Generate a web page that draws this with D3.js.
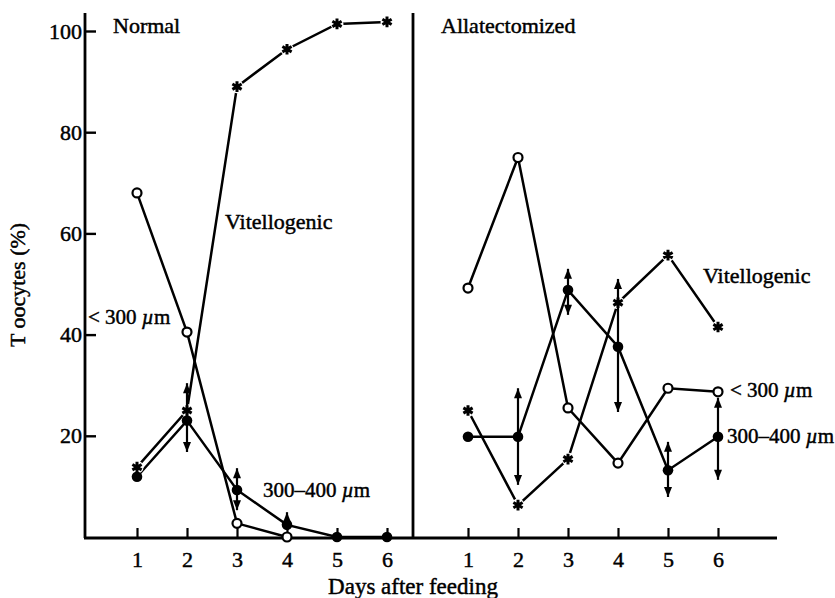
<!DOCTYPE html>
<html>
<head>
<meta charset="utf-8">
<script src="https://cdn.jsdelivr.net/npm/d3@7"></script>
<style>
  html, body { margin: 0; padding: 0; background: #fff; }
  svg text { font-family: "Liberation Serif", "Times New Roman", serif; fill: #000; stroke: #000; stroke-width: 0.45px; }
</style>
</head>
<body>
<svg id="chart" width="835" height="598"></svg>
<script>
// Days after feeding
const days = [1, 2, 3, 4, 5, 6];
const yTicks = [20, 40, 60, 80, 100];

// Normal females (% of terminal oocytes)
const normalSmall = [68, 40.5, 2.7, 0];              // < 300 µm, open circles
const normalMid = [11.9, 23, 9.3, 2.4, 0, 0];        // 300–400 µm, filled circles
const normalVit = [13.8, 25, 89, 96.4, 101.4, 101.8]; // vitellogenic, stars
const normalMidHi = [null, 30.4, 13.6, 4.9, null, null];
const normalMidLo = [null, 16.8, 5.3, null, null, null];

// Allatectomized females
const allatSmall = [49.2, 75, 25.5, 14.6, 29.4, 28.7];
const allatMid = [19.8, 19.8, 48.8, 37.6, 13.2, 19.8];
const allatVit = [25, 6.3, 15.4, 46.3, 55.7, 41.5];
const allatMidHi = [null, 29.4, 53, 51, 18.8, 27.5];
const allatMidLo = [null, 10.3, 43.9, 24.7, 7.9, 11.3];

const svg = d3.select("#chart");

const y = d3.scaleLinear().domain([0, 100]).range([537, 31]);
const xLeft = d3.scaleLinear().domain([0, 6]).range([87, 387]);
const xRight = d3.scaleLinear().domain([0, 6]).range([418, 718]);

const axisX0 = 85, axisTop = 13, baseY = 538, dividerX = 413, axisXEnd = 777;

// frame: y axis, divider, baseline
svg.append("line").attr("x1", axisX0).attr("x2", axisX0).attr("y1", axisTop).attr("y2", baseY)
  .attr("stroke", "#000").attr("stroke-width", 2.8);
svg.append("line").attr("x1", dividerX).attr("x2", dividerX).attr("y1", axisTop).attr("y2", baseY)
  .attr("stroke", "#000").attr("stroke-width", 2.8);
svg.append("line").attr("x1", axisX0 - 1).attr("x2", axisXEnd).attr("y1", baseY).attr("y2", baseY)
  .attr("stroke", "#000").attr("stroke-width", 2.8);

// y axis ticks and labels
const yAxis = svg.append("g").attr("transform", `translate(${axisX0},0)`)
  .call(d3.axisLeft(y).tickValues(yTicks).tickSizeInner(-11).tickSizeOuter(0).tickPadding(3).tickFormat(d3.format("d")));
yAxis.select(".domain").remove();
yAxis.selectAll(".tick line").attr("stroke", "#000").attr("stroke-width", 2.4);
yAxis.selectAll(".tick text").attr("font-size", 22).attr("font-family", "Liberation Serif, serif").attr("fill", "#000");

// x axes for both panels
[xLeft, xRight].forEach(xs => {
  const g = svg.append("g").attr("transform", `translate(0,${baseY})`)
    .call(d3.axisBottom(xs).tickValues(days).tickSizeInner(-10).tickSizeOuter(0).tickPadding(13).tickFormat(d3.format("d")));
  g.select(".domain").remove();
  g.selectAll(".tick line").attr("stroke", "#000").attr("stroke-width", 2.2);
  g.selectAll(".tick text").attr("font-size", 22).attr("font-family", "Liberation Serif, serif").attr("fill", "#000");
});

const lineGen = xs => d3.line().x(d => xs(d[0])).y(d => y(d[1]));
const pairs = (vals) => vals.map((v, i) => [days[i], v]);

function drawPanel(xs, small, mid, vit, hi, lo) {
  const g = svg.append("g");
  [small, mid, vit].forEach(vals => {
    g.append("path").datum(pairs(vals)).attr("d", lineGen(xs))
      .attr("fill", "none").attr("stroke", "#000").attr("stroke-width", 2.5);
  });
  // white halos leave a small gap around the star markers
  g.selectAll(".halo").data(pairs(vit)).join("circle")
    .attr("cx", d => xs(d[0])).attr("cy", d => y(d[1])).attr("r", 6.5).attr("fill", "#fff");
  // range bars with arrowheads for the 300–400 µm class
  days.forEach((d, i) => {
    const cx = xs(d), cy = y(mid[i]);
    [[hi[i], -1], [lo[i], 1]].forEach(([v, dir]) => {
      if (v == null) return;
      const ty = y(v);
      g.append("line").attr("x1", cx).attr("x2", cx).attr("y1", cy).attr("y2", ty)
        .attr("stroke", "#000").attr("stroke-width", 2.2);
      g.append("path")
        .attr("d", `M${cx},${ty} L${cx - 4},${ty - dir * 10} L${cx + 4},${ty - dir * 10} Z`)
        .attr("fill", "#000");
    });
  });
  g.selectAll(".star").data(pairs(vit)).join("path")
    .attr("transform", d => `translate(${xs(d[0])},${y(d[1])})`)
    .attr("d", d3.symbol(d3.symbolAsterisk, 80))
    .attr("fill", "none").attr("stroke", "#000").attr("stroke-width", 3);
  g.selectAll(".open").data(pairs(small)).join("circle")
    .attr("cx", d => xs(d[0])).attr("cy", d => y(d[1])).attr("r", 4.5)
    .attr("fill", "#fff").attr("stroke", "#000").attr("stroke-width", 2.2);
  g.selectAll(".filled").data(pairs(mid)).join("circle")
    .attr("cx", d => xs(d[0])).attr("cy", d => y(d[1])).attr("r", 5.3)
    .attr("fill", "#000");
}

drawPanel(xLeft, normalSmall, normalMid, normalVit, normalMidHi, normalMidLo);
drawPanel(xRight, allatSmall, allatMid, allatVit, allatMidHi, allatMidLo);

// text labels
function label(x, yy, parts, size = 20, anchor = "start") {
  const t = svg.append("text").attr("x", x).attr("y", yy).attr("font-size", size).attr("text-anchor", anchor);
  parts.forEach(p => {
    const s = t.append("tspan").text(p.t);
    if (p.i) s.attr("font-style", "italic");
  });
  return t;
}
label(113, 33, [{ t: "Normal" }], 22);
label(441, 33, [{ t: "Allatectomized" }], 22);
label(225, 229, [{ t: "Vitellogenic" }], 22);
label(88, 324, [{ t: "< 300 " }, { t: "µ", i: true }, { t: "m" }], 21);
label(263, 497, [{ t: "300–400 " }, { t: "µ", i: true }, { t: "m" }], 21);
label(703, 283, [{ t: "Vitellogenic" }], 22);
label(730, 397, [{ t: "< 300 " }, { t: "µ", i: true }, { t: "m" }], 21);
label(727, 443, [{ t: "300–400 " }, { t: "µ", i: true }, { t: "m" }], 21);
label(413, 594, [{ t: "Days after feeding" }], 23, "middle");
svg.append("text").attr("transform", "translate(25,285) rotate(-90)")
  .attr("text-anchor", "middle").attr("font-size", 22).text("T oocytes (%)");
</script>
</body>
</html>
